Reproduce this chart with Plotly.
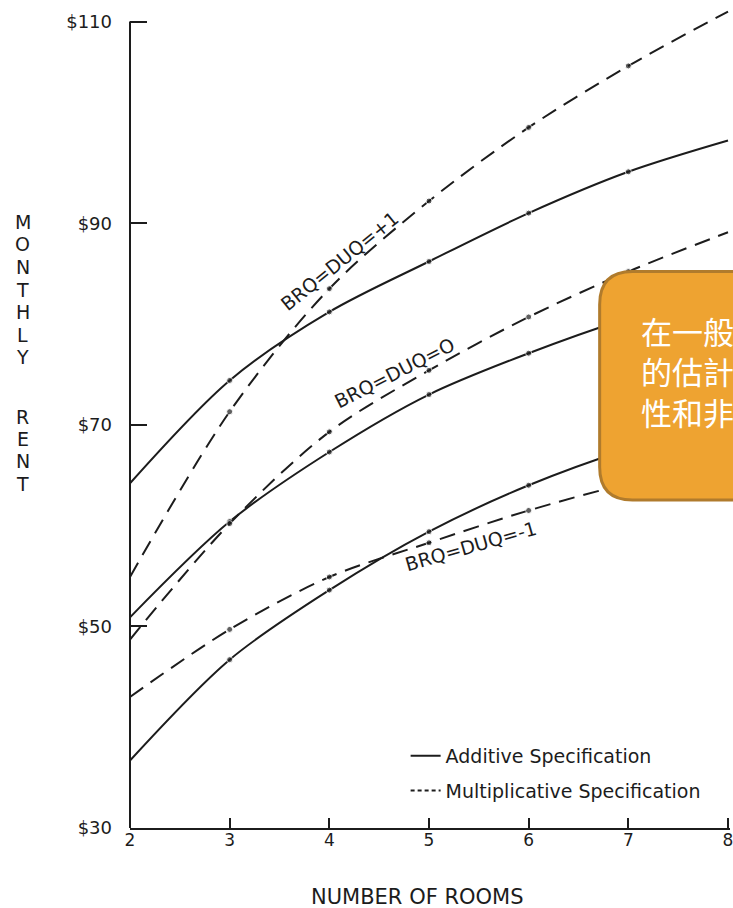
import plotly.graph_objects as go

# ---- data ----
rooms = [2, 3, 4, 5, 6, 7, 8]
add_plus1 = [64.2, 74.4, 81.2, 86.2, 91.0, 95.1, 98.2]
mult_plus1 = [54.9, 71.3, 83.5, 92.2, 99.5, 105.6, 111.0]
add_zero = [50.9, 60.4, 67.3, 73.0, 77.1, 80.6, 83.5]
mult_zero = [48.7, 60.2, 69.3, 75.4, 80.7, 85.2, 89.1]
add_minus1 = [36.7, 46.7, 53.6, 59.4, 64.0, 67.6, 70.4]
mult_minus1 = [43.0, 49.7, 54.9, 58.3, 61.5, 64.2, 66.4]

y_tick_vals = [30, 50, 70, 90, 110]
y_tick_text = ["$30", "$50", "$70", "$90", "$110"]
x_tick_vals = [2, 3, 4, 5, 6, 7, 8]
x_tick_text = ["2", "3", "4", "5", "6", "7", "8"]

curve_labels = ["BRQ=DUQ=+1", "BRQ=DUQ=O", "BRQ=DUQ=-1"]
legend_names = ["Additive Specification", "Multiplicative Specification"]
y_title_words = ["MONTHLY", "RENT"]
x_title = "NUMBER OF ROOMS"
callout_lines = ["在一般", "的估計", "性和非"]

INK = "#1c1c1c"
FONT = "DejaVu Sans, Liberation Sans, Arial, sans-serif"
DASH = "16px,9px"
dot_sizes = [0, 6, 6, 6, 6, 6, 0]

fig = go.Figure()

series = [
    (add_plus1, "solid"), (mult_plus1, DASH),
    (add_zero, "solid"), (mult_zero, DASH),
    (add_minus1, "solid"), (mult_minus1, DASH),
]
for ys, dash in series:
    fig.add_trace(go.Scatter(
        x=rooms, y=ys, mode="lines+markers",
        line=dict(color=INK, width=2, dash=dash, shape="spline", smoothing=0.9),
        marker=dict(color=INK, size=dot_sizes),
        showlegend=False, hoverinfo="skip",
    ))

# legend-only entries
fig.add_trace(go.Scatter(x=[None], y=[None], mode="lines", name=legend_names[0],
                         line=dict(color=INK, width=2), legendgroup="a"))
fig.add_trace(go.Scatter(x=[None], y=[None], mode="lines", name=legend_names[1],
                         line=dict(color=INK, width=2, dash="4px,3px"), legendgroup="m"))

# curve labels
for txt, (lx, ly, ang) in zip(curve_labels, [(4.10, 86.3, -39), (4.65, 75.1, -27), (5.42, 58.0, -16)]):
    fig.add_annotation(x=lx, y=ly, xref="x", yref="y", text=txt, showarrow=False,
                       textangle=ang, font=dict(family=FONT, size=19, color=INK))

# y axis line (stops at $110)
fig.add_shape(type="line", xref="paper", yref="y", x0=0, x1=0, y0=30, y1=110,
              line=dict(color=INK, width=2))

W, H = 603.0, 828.0

# vertical, stacked y-axis title
for word, top_px in zip(y_title_words, [222.0, 416.5]):
    for i, ch in enumerate(word):
        fig.add_annotation(xref="paper", yref="paper", x=(22 - 130) / W,
                           y=(828 - (top_px + i * 22.5)) / H, showarrow=False, text=ch,
                           font=dict(family=FONT, size=19, color=INK),
                           xanchor="center", yanchor="middle")

fig.add_annotation(xref="paper", yref="paper", x=(419 - 130) / W, y=(828 - 897) / H,
                   showarrow=False, text=x_title, font=dict(family=FONT, size=21, color=INK),
                   xanchor="center", yanchor="middle")

# orange callout (rounded box, cut by the right edge)
x0p, x1p = (602 - 130) / W, (790 - 130) / W
y0p, y1p = (828 - 500) / H, (828 - 271.5) / H
rx, ry = 33 / W, 33 / H
path = (f"M {x0p+rx},{y1p} L {x1p-rx},{y1p} Q {x1p},{y1p} {x1p},{y1p-ry} "
        f"L {x1p},{y0p+ry} Q {x1p},{y0p} {x1p-rx},{y0p} L {x0p+rx},{y0p} "
        f"Q {x0p},{y0p} {x0p},{y0p+ry} L {x0p},{y1p-ry} Q {x0p},{y1p} {x0p+rx},{y1p} Z")
fig.add_shape(type="path", xref="paper", yref="paper", path=path,
              fillcolor="#EEA331", line=dict(color="#B07B2C", width=3), layer="above")
fig.add_annotation(xref="paper", yref="paper", x=(642 - 130) / W, y=(828 - 371) / H,
                   xanchor="left", yanchor="middle", align="left", showarrow=False,
                   text="<br>".join(callout_lines),
                   font=dict(family="Noto Sans CJK TC, Noto Sans CJK SC, sans-serif", size=31, color="white"))

fig.update_layout(
    width=733, height=908,
    margin=dict(l=130, r=0, t=0, b=80),
    paper_bgcolor="white", plot_bgcolor="white",
    font=dict(family=FONT, color=INK),
    showlegend=True,
    legend=dict(x=(407 - 130) / W, y=(828 - 737) / H, xanchor="left", yanchor="top",
                bgcolor="rgba(0,0,0,0)", font=dict(family=FONT, size=19, color=INK),
                tracegroupgap=7),
    xaxis=dict(range=[2, 8.02], tickmode="array", tickvals=x_tick_vals, ticktext=x_tick_text,
               ticks="inside", ticklen=10, tickwidth=2, tickcolor=INK,
               showline=True, linecolor=INK, linewidth=2, showgrid=False, zeroline=False,
               ticklabelstandoff=-4, ticklabeloverflow="allow",
               tickfont=dict(family=FONT, size=17, color=INK)),
    yaxis=dict(range=[30, 30 + 828 / 10.08], tickmode="array", tickvals=y_tick_vals, ticktext=y_tick_text,
               ticks="inside", ticklen=17, tickwidth=2, tickcolor=INK,
               showline=False, showgrid=False, zeroline=False, ticklabelstandoff=17,
               tickfont=dict(family=FONT, size=18, color=INK)),
)

fig.write_html("out.html", config={"displayModeBar": False},
               post_script="document.body.style.margin='0';")
